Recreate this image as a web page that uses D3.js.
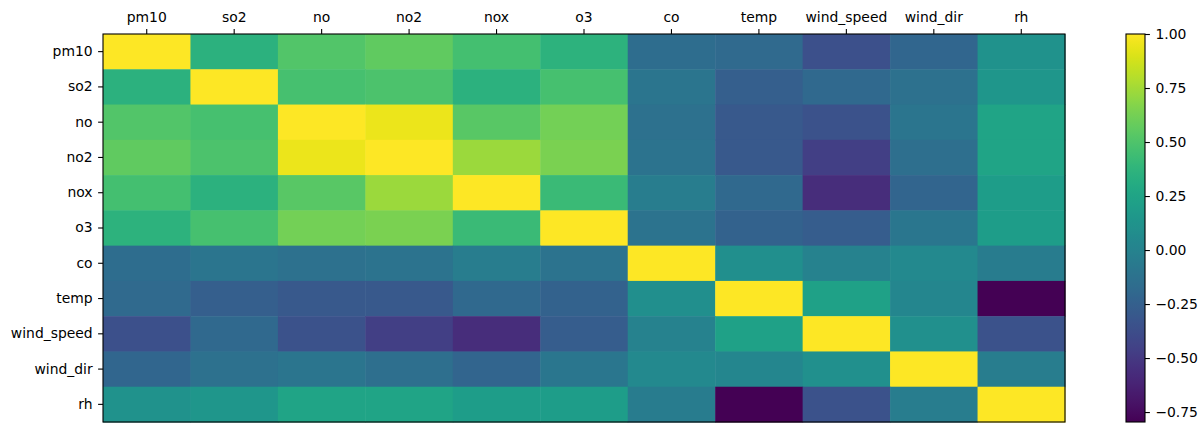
<!DOCTYPE html>
<html>
<head>
<meta charset="utf-8">
<script src="https://cdn.jsdelivr.net/npm/d3@7"></script>
<style>
  body { margin: 0; background: #fff; }
  svg text { font-family: "DejaVu Sans", sans-serif; font-size: 13.9px; fill: #000; }
</style>
</head>
<body>
<svg width="1202" height="423"></svg>
<script>
// variables of the correlation matrix
var vars = ["pm10", "so2", "no", "no2", "nox", "o3", "co", "temp", "wind_speed", "wind_dir", "rh"];

// one row per variable
var pm10 = [1, 0.35, 0.51, 0.56, 0.46, 0.36, -0.16, -0.18, -0.36, -0.21, 0.12];
var so2 = [0.35, 1, 0.47, 0.49, 0.35, 0.47, -0.10, -0.26, -0.19, -0.13, 0.15];
var no = [0.51, 0.47, 1, 0.95, 0.53, 0.62, -0.13, -0.30, -0.34, -0.10, 0.25];
var no2 = [0.56, 0.49, 0.95, 1, 0.73, 0.64, -0.11, -0.30, -0.46, -0.15, 0.25];
var nox = [0.46, 0.35, 0.53, 0.73, 1, 0.42, -0.04, -0.19, -0.57, -0.22, 0.20];
var o3 = [0.36, 0.47, 0.62, 0.64, 0.42, 1, -0.11, -0.24, -0.27, -0.09, 0.20];
var co = [-0.16, -0.10, -0.13, -0.11, -0.04, -0.11, 1, 0.09, -0.01, 0.05, -0.05];
var temp = [-0.18, -0.26, -0.30, -0.30, -0.19, -0.24, 0.09, 1, 0.23, 0.03, -0.796];
var wind_speed = [-0.36, -0.19, -0.34, -0.46, -0.57, -0.27, -0.01, 0.23, 1, 0.10, -0.34];
var wind_dir = [-0.21, -0.13, -0.10, -0.15, -0.22, -0.09, 0.05, 0.03, 0.10, 1, -0.04];
var rh = [0.12, 0.15, 0.25, 0.25, 0.20, 0.20, -0.05, -0.796, -0.34, -0.04, 1];

var rows = [pm10, so2, no, no2, nox, o3, co, temp, wind_speed, wind_dir, rh];

// colorbar ticks
var cbTicks = [1.00, 0.75, 0.50, 0.25, 0.00, -0.25, -0.50, -0.75];

// flatten into cells
var cells = [];
rows.forEach(function (r, i) {
  r.forEach(function (v, j) {
    cells.push({ row: vars[i], col: vars[j], value: v });
  });
});

var svg = d3.select("svg");

// heatmap box
var boxL = 103, boxT = 34, boxR = 1065, boxB = 422;

var x = d3.scaleBand().domain(vars).range([boxL, boxR]);
var y = d3.scaleBand().domain(vars).range([boxT, boxB]);

var vmin = d3.min(cells, (d) => d.value);
var vmax = d3.max(cells, (d) => d.value);
var color = d3.scaleSequential(d3.interpolateViridis).domain([vmin, vmax]);

svg
  .append("g")
  .selectAll("rect")
  .data(cells)
  .enter()
  .append("rect")
  .attr("x", (d) => x(d.col))
  .attr("y", (d) => y(d.row))
  .attr("width", x.bandwidth() + 0.5)
  .attr("height", y.bandwidth() + 0.5)
  .attr("fill", (d) => color(d.value));

// axes
var xAxis = svg
  .append("g")
  .attr("transform", "translate(0," + boxT + ")")
  .call(d3.axisTop(x).tickSize(4.9).tickPadding(7.5));
var yAxis = svg
  .append("g")
  .attr("transform", "translate(" + boxL + ",0)")
  .call(d3.axisLeft(y).tickSize(4.9).tickPadding(5.5));

[xAxis, yAxis].forEach(function (a) {
  a.select(".domain").remove();
  a.selectAll("line").attr("stroke", "#000").attr("stroke-width", 1.1);
  a.selectAll("text").attr("font-size", null).attr("font-family", null);
});

// frame
svg
  .append("rect")
  .attr("x", boxL)
  .attr("y", boxT)
  .attr("width", boxR - boxL)
  .attr("height", boxB - boxT)
  .attr("fill", "none")
  .attr("stroke", "#000")
  .attr("stroke-width", 1.1);

// colorbar
var cbLeft = 1126, cbWidth = 19;
var cy = d3.scaleLinear().domain([vmin, vmax]).range([boxB, boxT]);

var grad = svg
  .append("defs")
  .append("linearGradient")
  .attr("id", "cbgrad")
  .attr("x1", 0).attr("y1", 1).attr("x2", 0).attr("y2", 0);
d3.range(0, 1.0001, 0.02).forEach(function (t) {
  grad
    .append("stop")
    .attr("offset", t)
    .attr("stop-color", d3.interpolateViridis(t));
});

svg
  .append("rect")
  .attr("x", cbLeft)
  .attr("y", boxT)
  .attr("width", cbWidth)
  .attr("height", boxB - boxT)
  .attr("fill", "url(#cbgrad)")
  .attr("stroke", "#000")
  .attr("stroke-width", 1.1);

var cbAxis = svg
  .append("g")
  .attr("transform", "translate(" + (cbLeft + cbWidth) + ",0)")
  .call(
    d3
      .axisRight(cy)
      .tickValues(cbTicks)
      .tickFormat(d3.format(".2f"))
      .tickSize(4.9)
      .tickPadding(5.5)
  );
cbAxis.select(".domain").remove();
cbAxis.selectAll("line").attr("stroke", "#000").attr("stroke-width", 1.1);
cbAxis.selectAll("text").attr("font-size", null).attr("font-family", null);
</script>
</body>
</html>
